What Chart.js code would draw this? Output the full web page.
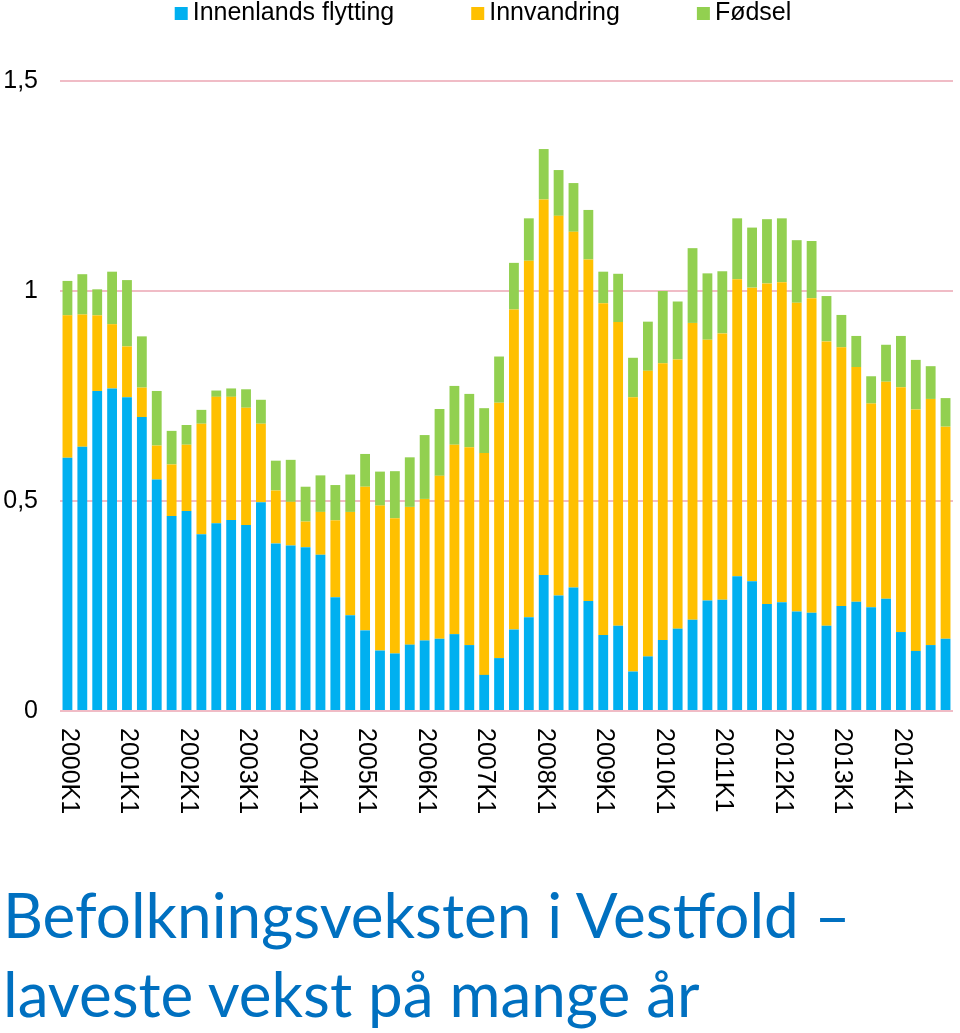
<!DOCTYPE html>
<html>
<head>
<meta charset="utf-8">
<script src="https://cdn.jsdelivr.net/npm/chart.js@4.4.1/dist/chart.umd.min.js"></script>
<style>
  html, body { margin: 0; padding: 0; background: #ffffff; }
  body { width: 960px; height: 1033px; position: relative; overflow: hidden; }
  #wrap { position: absolute; left: 0; top: 0; width: 960px; height: 850px; }
  #title {
    position: absolute; left: 3px; top: 875px; width: 960px;
    font-family: "Lato", "Open Sans", sans-serif; font-size: 62px; line-height: 79px;
    color: #0070C0; white-space: nowrap;
  }
</style>
</head>
<body>
<div id="wrap"><canvas id="c" width="960" height="850"></canvas></div>
<div id="title">Befolkningsveksten i Vestfold –<br>laveste vekst på mange år</div>
<script>
const categories = [
  '2000K1','2000K2','2000K3','2000K4','2001K1','2001K2','2001K3','2001K4',
  '2002K1','2002K2','2002K3','2002K4','2003K1','2003K2','2003K3','2003K4',
  '2004K1','2004K2','2004K3','2004K4','2005K1','2005K2','2005K3','2005K4',
  '2006K1','2006K2','2006K3','2006K4','2007K1','2007K2','2007K3','2007K4',
  '2008K1','2008K2','2008K3','2008K4','2009K1','2009K2','2009K3','2009K4',
  '2010K1','2010K2','2010K3','2010K4','2011K1','2011K2','2011K3','2011K4',
  '2012K1','2012K2','2012K3','2012K4','2013K1','2013K2','2013K3','2013K4',
  '2014K1','2014K2','2014K3','2014K4'
];
const innenlandsFlytting = [
  0.603,0.629,0.762,0.768,0.747,0.700,0.551,0.464,0.476,0.421,0.447,0.455,0.443,0.497,0.399,0.394,
  0.390,0.372,0.271,0.228,0.192,0.144,0.137,0.158,0.168,0.172,0.183,0.157,0.086,0.126,0.194,0.223,
  0.324,0.275,0.294,0.262,0.181,0.203,0.094,0.130,0.169,0.196,0.217,0.263,0.265,0.321,0.309,0.255,
  0.259,0.237,0.234,0.203,0.250,0.260,0.247,0.267,0.188,0.143,0.157,0.172
];
const innvandring = [
  0.339,0.315,0.180,0.153,0.121,0.070,0.081,0.123,0.158,0.263,0.301,0.293,0.279,0.187,0.126,0.104,
  0.061,0.102,0.183,0.246,0.342,0.345,0.322,0.328,0.337,0.388,0.451,0.471,0.528,0.608,0.762,0.849,
  0.894,0.904,0.847,0.813,0.790,0.723,0.653,0.680,0.659,0.641,0.707,0.621,0.634,0.707,0.699,0.763,
  0.762,0.735,0.749,0.677,0.616,0.559,0.485,0.517,0.583,0.575,0.586,0.505
];
const fodsel = [
  0.082,0.096,0.062,0.125,0.158,0.122,0.130,0.080,0.047,0.033,0.015,0.020,0.044,0.057,0.071,0.100,
  0.083,0.087,0.084,0.089,0.078,0.081,0.112,0.118,0.152,0.159,0.140,0.127,0.107,0.110,0.111,0.101,
  0.120,0.109,0.116,0.118,0.075,0.115,0.094,0.117,0.172,0.138,0.178,0.158,0.148,0.145,0.143,0.153,
  0.152,0.149,0.136,0.108,0.077,0.074,0.065,0.088,0.122,0.118,0.078,0.068
];
const seriesNames = ['Innenlands flytting', 'Innvandring', 'Fødsel'];
const seriesColors = ['#00B0F0', '#FFC000', '#92D050'];
const yTickLabels = { 0: '0', 0.5: '0,5', 1: '1', 1.5: '1,5' };

const FONT = '25px "Liberation Sans", Arial, sans-serif';

const xLabelPlugin = {
  id: 'xLabels',
  afterDraw(chart) {
    const ctx = chart.ctx;
    const xs = chart.scales.x;
    ctx.save();
    ctx.font = FONT;
    ctx.fillStyle = '#000000';
    ctx.textAlign = 'left';
    ctx.textBaseline = 'middle';
    categories.forEach((lab, i) => {
      if (!lab.endsWith('K1')) return;
      const x = xs.getPixelForValue(i);
      ctx.save();
      ctx.translate(x + 1, chart.chartArea.bottom + 17);
      ctx.rotate(Math.PI / 2);
      ctx.fillText(lab, 0, 0);
      ctx.restore();
    });
    ctx.restore();
  }
};

const legendPlugin = {
  id: 'topLegend',
  afterDraw(chart) {
    const ctx = chart.ctx;
    ctx.save();
    ctx.font = FONT;
    ctx.textBaseline = 'middle';
    ctx.textAlign = 'left';
    const box = 13, gapText = 5, gapItem = 77;
    const widths = seriesNames.map(n => box + gapText + ctx.measureText(n).width);
    const total = widths.reduce((a, b) => a + b, 0) + gapItem * (widths.length - 1);
    let x = 483 - total / 2;
    const cy = 13;
    seriesNames.forEach((n, i) => {
      ctx.fillStyle = seriesColors[i];
      ctx.fillRect(x, cy - 6, box, box);
      ctx.fillStyle = '#000000';
      ctx.fillText(n, x + box + gapText, cy);
      x += widths[i] + gapItem;
    });
    ctx.restore();
  }
};

new Chart(document.getElementById('c'), {
  type: 'bar',
  data: {
    labels: categories,
    datasets: [
      { label: seriesNames[0], data: innenlandsFlytting, backgroundColor: seriesColors[0] },
      { label: seriesNames[1], data: innvandring, backgroundColor: seriesColors[1] },
      { label: seriesNames[2], data: fodsel, backgroundColor: seriesColors[2] }
    ]
  },
  options: {
    responsive: false,
    animation: false,
    devicePixelRatio: 1,
    datasets: { bar: { categoryPercentage: 1.0, barPercentage: 0.66, borderWidth: 0 } },
    layout: { padding: { left: 0, right: 7, top: 81, bottom: 139 } },
    plugins: { legend: { display: false }, tooltip: { enabled: false } },
    scales: {
      x: {
        stacked: true,
        display: false
      },
      y: {
        stacked: true,
        min: 0, max: 1.5,
        afterFit(s) { s.width = 60; },
        border: { display: false },
        grid: { color: '#F0BCC6', lineWidth: 2, drawTicks: false },
        ticks: {
          stepSize: 0.5,
          padding: 22,
          color: '#000000',
          font: { family: '"Liberation Sans", Arial, sans-serif', size: 25 },
          callback: (v) => yTickLabels[v] !== undefined ? yTickLabels[v] : ''
        }
      }
    }
  },
  plugins: [xLabelPlugin, legendPlugin]
});
</script>
</body>
</html>
